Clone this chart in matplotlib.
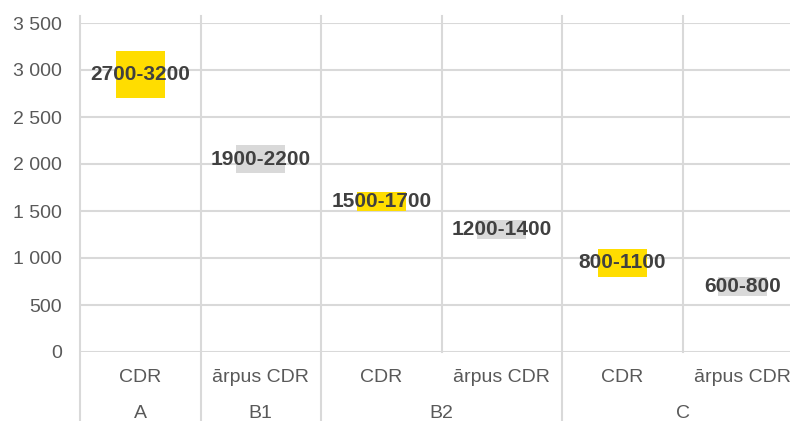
import matplotlib.pyplot as plt
import matplotlib.transforms as mtransforms
from matplotlib.ticker import FuncFormatter

plt.rcParams['font.family'] = ['Liberation Sans', 'DejaVu Sans']

# chart values
groups = ['A', 'B1', 'B2', 'C']
group_spans = [(0, 0), (1, 1), (2, 3), (4, 5)]
subcats = ['CDR', 'ārpus CDR', 'CDR', 'ārpus CDR', 'CDR', 'ārpus CDR']
low = [2700, 1900, 1500, 1200, 800, 600]
high = [3200, 2200, 1700, 1400, 1100, 800]

yellow = '#FFDD00'
gray = '#D9D9D9'
grid_c = '#D9D9D9'
text_c = '#595959'
label_c = '#404040'

fig = plt.figure(figsize=(7.9, 4.21), dpi=100)
ax = fig.add_axes([80 / 790, 69 / 421, 723 / 790, 329 / 421])

x = list(range(len(subcats)))
colors = [yellow if s == 'CDR' else gray for s in subcats]
heights = [h - l for l, h in zip(low, high)]
ax.bar(x, heights, bottom=low, width=0.41, color=colors, zorder=3)

for xi, l, h in zip(x, low, high):
    ax.text(xi, (l + h) / 2, f'{l}-{h}', ha='center', va='center',
            fontsize=15, fontweight='bold', color=label_c, zorder=4)

ax.set_xlim(-0.5, len(subcats) - 0.5)
ax.set_ylim(0, 3500)
ax.set_yticks(range(0, 3501, 500))
ax.yaxis.set_major_formatter(FuncFormatter(lambda v, p: f'{int(v):,}'.replace(',', ' ')))
ax.tick_params(axis='y', length=0, pad=13, labelsize=14, labelcolor=text_c)
ax.set_xticks([])
for s in ax.spines.values():
    s.set_visible(False)
ax.yaxis.grid(True, color=grid_c, linewidth=1.5, zorder=0)
ax.set_axisbelow(True)

# vertical category lines
xt = ax.get_xaxis_transform()
group_edges = {-0.5} | {e + 0.5 for _, e in group_spans}
for b in [i - 0.5 for i in range(len(subcats) + 1)]:
    y0 = -0.3 if b in group_edges else 0
    ax.plot([b, b], [y0, 1.022], transform=xt, color=grid_c, linewidth=1.5,
            clip_on=False, zorder=1)

# two-level category labels
bt = mtransforms.blended_transform_factory(ax.transData, fig.transFigure)
for xi, s in zip(x, subcats):
    ax.text(xi, (421 - 377) / 421, s, transform=bt, ha='center', va='center',
            fontsize=14, color=text_c)
for g, (a, b) in zip(groups, group_spans):
    ax.text((a + b) / 2, (421 - 413) / 421, g, transform=bt, ha='center',
            va='center', fontsize=14, color=text_c)

fig.savefig('out.png', dpi=100)
